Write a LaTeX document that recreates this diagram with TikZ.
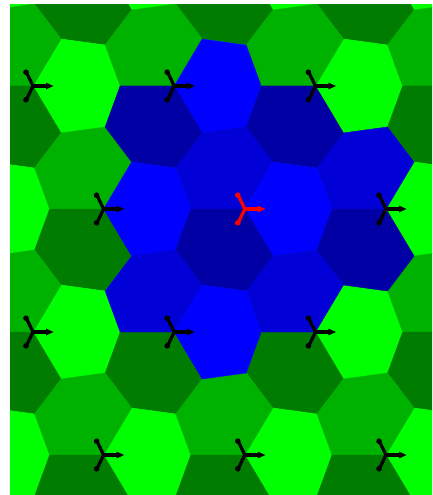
\documentclass[tikz,border=0pt]{standalone}
\usetikzlibrary{arrows.meta}
\definecolor{gL}{RGB}{0,255,0}
\definecolor{gM}{RGB}{0,178,0}
\definecolor{gD}{RGB}{0,125,0}
\definecolor{bL}{RGB}{0,0,255}
\definecolor{bM}{RGB}{0,0,215}
\definecolor{bD}{RGB}{0,0,165}
\tikzset{x=1bp,y=-1bp,
  cell/.style={fill=#1,draw=#1,line width=0.4bp,line join=round},
  armline/.style={draw=#1,line width=3.2bp,line cap=round}}
\newcommand{\lightcell}[3]{\path[cell=#3,shift={(#1,#2)}] (0,0)--(28,-47)--(72,-41)--(87,0)--(72,41)--(28,47)--cycle;}
\newcommand{\midcell}[3]{\path[cell=#3,shift={(#1,#2)}] (0,0)--(28,-47)--(1.5,-82)--(-42.5,-76)--(-69,-41)--(-54,0)--cycle;}
\newcommand{\darkcell}[3]{\path[cell=#3,shift={(#1,#2)}] (0,0)--(-54,0)--(-69,41)--(-42.5,76)--(1.5,82)--(28,47)--cycle;}
\newcommand{\tristar}[3]{\begin{scope}[shift={(#1,#2)}]
  \draw[armline=#3] (0,0)--(15,0);
  \fill[#3] (13,-3.4)--(20.5,0)--(13,3.4)--cycle;
  \draw[armline=#3] (0,0)--(-6.5,-13.5);
  \draw[armline=#3] (0,0)--(-6.5,13.5);
  \fill[#3] (-7,-13.8) circle (2.8bp) (-7,13.8) circle (2.8bp);
\end{scope}}
\begin{document}
\begin{tikzpicture}
\useasboundingbox (0,0) rectangle (432,495);
\fill[white] (0,0) rectangle (432,495);
\begin{scope}
\clip (10,5) rectangle (432,495);
\foreach \r in {-1,0,...,4}{
  \foreach \c in {-1,0,...,3}{
    \pgfmathsetmacro{\px}{33+141.2*\c+70.6*mod(\r+2,2)}
    \pgfmathsetmacro{\py}{86+123*\r}
    \lightcell{\px}{\py}{gL}
    \midcell{\px}{\py}{gM}
    \darkcell{\px}{\py}{gD}
  }
}
% blue neighbourhood
\lightcell{174.2}{86}{bL}
\darkcell{174.2}{86}{bD}
\darkcell{315.4}{86}{bD}
\midcell{244.8}{209}{bM}
\midcell{386}{209}{bM}
\lightcell{103.6}{209}{bL}
\lightcell{244.8}{209}{bL}
\darkcell{244.8}{209}{bD}
\darkcell{386}{209}{bD}
\midcell{174.2}{332}{bM}
\midcell{315.4}{332}{bM}
\lightcell{174.2}{332}{bL}
\end{scope}
\foreach \sx/\sy in {33/86,174.2/86,315.4/86,103.6/209,386/209,33/332,174.2/332,315.4/332,103.6/455,244.8/455,386/455}{
  \tristar{\sx}{\sy}{black}
}
\tristar{244.8}{209}{red}
\end{tikzpicture}
\end{document}
